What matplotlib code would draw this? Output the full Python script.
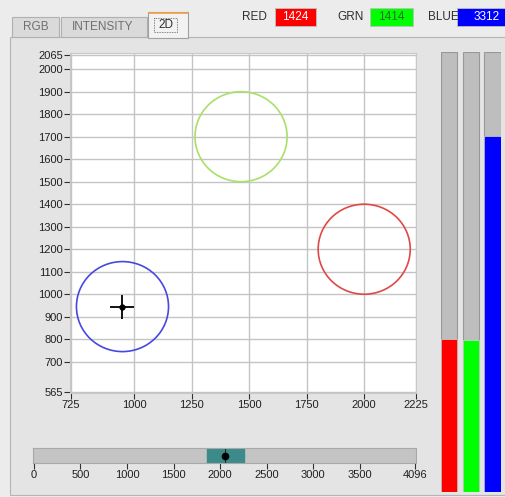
import matplotlib.pyplot as plt
from matplotlib.patches import Ellipse, Rectangle

channel_names = ["RED", "GRN", "BLUE"]
channel_values = [1424, 1414, 3312]
full_scale = 4096

circle_x = [2000, 1465, 950]
circle_y = [1200, 1700, 945]
circle_radius = 200
circle_colors = ["#e04848", "#a8e068", "#4848e0"]

cursor_x = 950
cursor_y = 945

x_ticks = [725, 1000, 1250, 1500, 1750, 2000, 2225]
y_ticks = [565, 700, 800, 900, 1000, 1100, 1200, 1300, 1400, 1500,
           1600, 1700, 1800, 1900, 2000, 2065]

slider_ticks = [0, 500, 1000, 1500, 2000, 2500, 3000, 3500, 4096]
slider_value = 2056
slider_span = 400

W, H = 505, 497
FONT = "Liberation Sans"


def px_box(x0, y0, x1, y1):
    # pixel box (top-left origin) -> figure fraction [left, bottom, width, height]
    return [x0 / W, 1 - y1 / H, (x1 - x0) / W, (y1 - y0) / H]


fig = plt.figure(figsize=(W / 100, H / 100), dpi=100, facecolor="#ececec")

# background / window decoration layer in pixel units
bg = fig.add_axes([0, 0, 1, 1], zorder=-1)
bg.set_xlim(0, W)
bg.set_ylim(H, 0)
bg.axis("off")

bg.add_patch(Rectangle((10, 37), 520, 458, facecolor="#e4e4e4",
                       edgecolor="#b4b4b4", lw=0.8))
# tabs
bg.add_patch(Rectangle((12, 17), 47, 20, facecolor="#dadada", edgecolor="#b0b0b0", lw=0.8))
bg.add_patch(Rectangle((61, 17), 86, 20, facecolor="#dadada", edgecolor="#b0b0b0", lw=0.8))
bg.add_patch(Rectangle((148, 12), 40, 26, facecolor="#f2f2f2", edgecolor="#a0a0a0", lw=0.8))
bg.plot([149, 187], [12.5, 12.5], color="#f0a040", lw=1.2)
bg.add_patch(Rectangle((154, 18), 23, 14, facecolor="none", edgecolor="#606060",
                       lw=0.6, ls=(0, (1, 1))))
bg.text(36, 27, "RGB", fontsize=8.5, family=FONT, color="#707070", ha="center", va="center")
bg.text(103, 27, "INTENSITY", fontsize=8.5, family=FONT, color="#707070", ha="center", va="center")
bg.text(165.5, 25.5, "2D", fontsize=8.5, family=FONT, color="#303030", ha="center", va="center")

# channel readouts
label_x = [242, 337, 428]
box_x = [(275, 316), (370, 413), (457, 515)]
box_colors = ["#ff0000", "#00ff00", "#0000ff"]
value_colors = ["white", "#207020", "white"]
for name, val, lx, (b0, b1), bc, vc in zip(channel_names, channel_values, label_x,
                                             box_x, box_colors, value_colors):
    bg.text(lx, 17, name, fontsize=8.5, family=FONT, color="#303030", ha="left", va="center")
    bg.add_patch(Rectangle((b0, 8), b1 - b0, 18, facecolor=bc, edgecolor="#c0c0c0", lw=0.6))
    bg.text(b0 + 30 if b1 > W else (b0 + b1) / 2, 17, str(val), fontsize=8.5,
            family=FONT, color=vc, ha="center", va="center")

# main 2D plot
ax = fig.add_axes(px_box(70, 53, 416, 393))
ax.set_facecolor("white")
ax.set_xlim(722, 2225)
ax.set_ylim(561, 2072)
ax.set_xticks(x_ticks)
ax.set_yticks(y_ticks)
ax.grid(True, color="#c4c4c4", lw=1.0)
ax.set_axisbelow(True)
for s in ax.spines.values():
    s.set_color("#c8c8c8")
    s.set_linewidth(0.8)
ax.tick_params(axis="both", labelsize=8, length=4, width=0.8, color="#303030",
               pad=1, labelcolor="#202020")
for lab in ax.get_xticklabels() + ax.get_yticklabels():
    lab.set_family(FONT)

for cx, cy, col in zip(circle_x, circle_y, circle_colors):
    ax.add_patch(Ellipse((cx, cy), 2 * circle_radius, 2 * circle_radius,
                         facecolor="none", edgecolor=col, lw=1.2))
ax.plot(cursor_x, cursor_y, marker="+", ms=17, mew=1.3, color="black")
ax.plot(cursor_x, cursor_y, marker="o", ms=3.5, color="black")

# level bars on the right
axb = fig.add_axes(px_box(441, 52, 500.5, 492))
pos = range(len(channel_values))
axb.bar(pos, [full_scale] * 3, width=0.76, color="#bebebe", edgecolor="#989898", lw=0.8)
axb.bar(pos, channel_values, width=0.76, color=box_colors, edgecolor="#d0d0d0", lw=0.5)
axb.set_xlim(-0.38, 2.38)
axb.set_ylim(0, full_scale)
axb.axis("off")

# slider at the bottom
axs = fig.add_axes(px_box(33, 448, 416, 463))
axs.set_facecolor("#c4c4c4")
axs.set_xlim(-10, 4105)
axs.set_ylim(0, 1)
axs.axvspan(slider_value - slider_span / 2, slider_value + slider_span / 2,
            color="#3c8a8a")
axs.axvline(slider_value, color="#103030", lw=0.8)
axs.plot(slider_value, 0.5, "o", ms=4.5, color="black")
axs.set_yticks([])
axs.set_xticks(slider_ticks)
axs.tick_params(axis="x", labelsize=8, length=4, width=0.8, color="#303030",
                pad=1, labelcolor="#202020")
for lab in axs.get_xticklabels():
    lab.set_family(FONT)
for s in axs.spines.values():
    s.set_color("#a8a8a8")
    s.set_linewidth(0.8)

fig.savefig("out.png", dpi=100, facecolor=fig.get_facecolor())
